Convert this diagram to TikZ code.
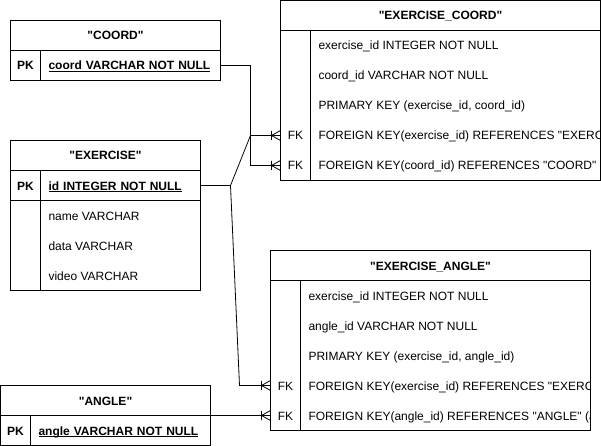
\documentclass[tikz,border=0pt]{standalone}
\usepackage{fontspec}
\setmainfont{Liberation Sans}[Ligatures=TeXOff]
\newcommand\ulbox[1]{\setbox0\hbox{#1}\rlap{\rule[-2pt]{\wd0}{0.9pt}}\box0}
\newcommand\crowin[1]{%
  \draw[link] ([xshift=-9pt]#1) -- ([yshift=5pt]#1)
              ([xshift=-9pt]#1) -- ([yshift=-5pt]#1)
              ([xshift=-9pt,yshift=4.5pt]#1) -- ([xshift=-9pt,yshift=-4.5pt]#1);}
\begin{document}
\begin{tikzpicture}[x=1pt,y=-1pt,
  tbox/.style={draw, line width=0.8pt, inner sep=0pt, outer sep=0pt, anchor=north west},
  tline/.style={line width=0.8pt},
  link/.style={line width=0.8pt, line cap=butt},
  base/.style={inner sep=0pt, outer sep=0pt, font=\fontsize{12}{14}\selectfont,
               text height=9pt, text depth=0pt, minimum height=30pt},
  hdr/.style={base, font=\fontsize{12}{14}\selectfont\bfseries},
  pkey/.style={base, font=\fontsize{12}{14}\selectfont\bfseries, minimum width=30pt},
  fkey/.style={base, minimum width=30pt},
  fld/.style={base, anchor=west, inner xsep=8pt},
  pkfld/.style={base, font=\fontsize{12}{14}\selectfont\bfseries, anchor=west,
                inner xsep=8pt, align=left}
]
\useasboundingbox (0,0) rectangle (601,446);

% ---------- COORD ----------
\node[tbox, minimum width=210pt, minimum height=60pt] (coordtab) at (10.5,20.5) {};
\draw[tline] (10.5,50.5) -- (220.5,50.5) (40.5,50.5) -- (40.5,80.5);
\node[hdr, minimum width=210pt] (coordh) at (115.5,35.5) {"COORD"};
\node[pkey] (coordk) at (25.5,65.5) {PK};
\node[pkfld, text width=164pt] (coordpk) at (40.5,65.5) {\ulbox{coord VARCHAR NOT NULL}};

% ---------- EXERCISE ----------
\node[tbox, minimum width=190pt, minimum height=150pt] (extab) at (10.5,140.5) {};
\draw[tline] (10.5,170.5) -- (200.5,170.5) (10.5,200.5) -- (200.5,200.5)
             (40.5,170.5) -- (40.5,290.5);
\node[hdr, minimum width=190pt] (exh) at (105.5,155.5) {"EXERCISE"};
\node[pkey] (exk) at (25.5,185.5) {PK};
\node[pkfld, text width=144pt] (expk) at (40.5,185.5) {\ulbox{id INTEGER NOT NULL}};
\node[fld] (exname) at (40.5,215.5) {name VARCHAR};
\node[fld] (exdata) at (40.5,245.5) {data VARCHAR};
\node[fld] (exvideo) at (40.5,275.5) {video VARCHAR};

% ---------- ANGLE ----------
\node[tbox, minimum width=210pt, minimum height=60pt] (angletab) at (0.5,385.5) {};
\draw[tline] (0.5,415.5) -- (210.5,415.5) (30.5,415.5) -- (30.5,445.5);
\node[hdr, minimum width=210pt] (angleh) at (105.5,400.5) {"ANGLE"};
\node[pkey] (anglek) at (15.5,430.5) {PK};
\node[pkfld, text width=164pt] (anglepk) at (30.5,430.5) {\ulbox{angle VARCHAR NOT NULL}};

% ---------- EXERCISE_COORD ----------
\node[tbox, minimum width=320pt, minimum height=180pt] (ectab) at (280.5,0.5) {};
\draw[tline] (280.5,30.5) -- (600.5,30.5) (310.5,30.5) -- (310.5,180.5);
\begin{scope}
\clip (280.5,0.5) rectangle (600.5,180.5);
\node[hdr, minimum width=320pt] (ech) at (440.5,15.5) {"EXERCISE\_COORD"};
\node[fld] (ecf1) at (310.5,45.5) {exercise\_id INTEGER NOT NULL};
\node[fld] (ecf2) at (310.5,75.5) {coord\_id VARCHAR NOT NULL};
\node[fld] (ecf3) at (310.5,105.5) {PRIMARY KEY (exercise\_id, coord\_id)};
\node[fkey] (ecfk1) at (295.5,135.5) {FK};
\node[fld] (ecf4) at (310.5,135.5) {FOREIGN KEY(exercise\_id) REFERENCES "EXERCISE" (id)};
\node[fkey] (ecfk2) at (295.5,165.5) {FK};
\node[fld] (ecf5) at (310.5,165.5) {FOREIGN KEY(coord\_id) REFERENCES "COORD" (coord)};
\end{scope}

% ---------- EXERCISE_ANGLE ----------
\node[tbox, minimum width=320pt, minimum height=180pt] (eatab) at (270.5,250.5) {};
\draw[tline] (270.5,280.5) -- (590.5,280.5) (300.5,280.5) -- (300.5,430.5);
\begin{scope}
\clip (270.5,250.5) rectangle (590.5,430.5);
\node[hdr, minimum width=320pt] (eah) at (430.5,265.5) {"EXERCISE\_ANGLE"};
\node[fld] (eaf1) at (300.5,295.5) {exercise\_id INTEGER NOT NULL};
\node[fld] (eaf2) at (300.5,325.5) {angle\_id VARCHAR NOT NULL};
\node[fld] (eaf3) at (300.5,355.5) {PRIMARY KEY (exercise\_id, angle\_id)};
\node[fkey] (eafk1) at (285.5,385.5) {FK};
\node[fld] (eaf4) at (300.5,385.5) {FOREIGN KEY(exercise\_id) REFERENCES "EXERCISE" (id)};
\node[fkey] (eafk2) at (285.5,415.5) {FK};
\node[fld] (eaf5) at (300.5,415.5) {FOREIGN KEY(angle\_id) REFERENCES "ANGLE" (angle)};
\end{scope}

% ---------- connectors ----------
\draw[link] (coordpk.east) -- ++(30,0) |- (ecfk2.west);
\draw[link] (expk.east) -- ++(30,0) -- ([xshift=-30pt]ecfk1.west) -- (ecfk1.west);
\draw[link] (expk.east) -- ++(30,0) -- ([xshift=-31pt]eafk1.west) -- (eafk1.west);
\draw[link] (eafk2.west -| angletab.east) -- (eafk2.west);
\crowin{ecfk1.west}
\crowin{ecfk2.west}
\crowin{eafk1.west}
\crowin{eafk2.west}
\end{tikzpicture}
\end{document}
